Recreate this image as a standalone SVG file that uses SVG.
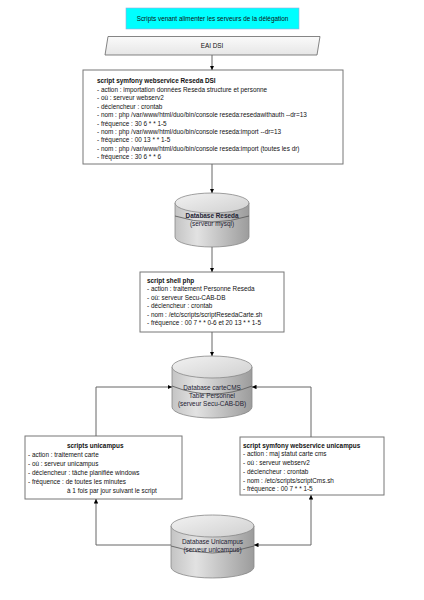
<svg xmlns="http://www.w3.org/2000/svg" width="424" height="600" viewBox="0 0 424 600">
<defs>
<style>
text{font-family:"Liberation Sans",Arial,sans-serif;font-size:6.4px;fill:#111}
.b{font-weight:bold}
.c{text-anchor:middle}
.box{fill:#fff;stroke:#777;stroke-width:1}
.conn{fill:none;stroke:#666;stroke-width:1}
.side{fill:url(#cylSide);stroke:#888;stroke-width:0.8}
.top{fill:url(#cylTop);stroke:#888;stroke-width:0.8}
.mid{fill:none;stroke:#555;stroke-width:0.8}
.db{fill:#223}
</style>
<linearGradient id="cylSide" x1="0" y1="0" x2="1" y2="0">
<stop offset="0" stop-color="#c4c4c4"/>
<stop offset="0.3" stop-color="#e2e2e2"/>
<stop offset="1" stop-color="#9c9c9c"/>
</linearGradient>
<linearGradient id="cylTop" x1="0" y1="0" x2="1" y2="1">
<stop offset="0" stop-color="#f2f2f2"/>
<stop offset="1" stop-color="#d0d0d0"/>
</linearGradient>
<linearGradient id="eai" x1="0" y1="0" x2="0" y2="1">
<stop offset="0" stop-color="#fafafa"/>
<stop offset="1" stop-color="#e6e6e6"/>
</linearGradient>
<marker id="arr" viewBox="0 0 10 10" refX="10" refY="5" markerWidth="4.5" markerHeight="4.5" orient="auto-start-reverse" markerUnits="userSpaceOnUse">
<path d="M0,0 L10,5 L0,10 Z" fill="#000"/>
</marker>
</defs>
<rect width="424" height="600" fill="#fff"/>

<g id="title">
<rect x="126" y="8" width="173" height="21" fill="#00ffff" stroke="#9ad" stroke-width="0.6"/>
<text class="c" x="212.5" y="21">Scripts venant alimenter les serveurs de la délégation</text>
</g>

<g id="eai-dsi">
<path d="M108,36.5 L320,36.5 L317,55 L105,55 Z" fill="url(#eai)" stroke="#666" stroke-width="0.8"/>
<text class="c" x="212" y="48">EAI DSI</text>
</g>

<g id="script-reseda-dsi">
<rect class="box" x="83" y="70" width="260" height="94"/>
<text class="b" x="97" y="83">script symfony webservice Reseda DSI</text>
<text x="97" y="91.5">- action : importation données Reseda structure et personne</text>
<text x="97" y="100">- où : serveur webserv2</text>
<text x="97" y="108.5">- déclencheur : crontab</text>
<text x="97" y="117">- nom : php /var/www/html/duo/bin/console reseda:resedawithauth --dr=13</text>
<text x="97" y="125.5">- fréquence : 30 6 * * 1-5</text>
<text x="97" y="134">- nom : php /var/www/html/duo/bin/console reseda:import --dr=13</text>
<text x="97" y="142.3">- fréquence : 00 13 * * 1-5</text>
<text x="97" y="150.7">- nom :  php /var/www/html/duo/bin/console reseda:import (toutes les dr)</text>
<text x="97" y="158.5">- fréquence : 30 6 * * 6</text>
</g>

<g id="db-reseda">
<path class="side" d="M175,203 L175,237 A37,10 0 0 0 249,237 L249,203 Z"/>
<ellipse class="top" cx="212" cy="203" rx="37" ry="10"/>
<path class="mid" d="M175,216 Q212,228 249,216"/>
<text class="c b db" x="212" y="217.5">Database Reseda</text>
<text class="c db" x="212" y="226">(serveur mysql)</text>
</g>

<g id="script-shell-php">
<rect class="box" x="140" y="272" width="144" height="60"/>
<text class="b" x="147" y="282.5">script shell php</text>
<text x="147" y="291">- action : traitement Personne Reseda</text>
<text x="147" y="299.5">- où: serveur Secu-CAB-DB</text>
<text x="147" y="308">- déclencheur : crontab</text>
<text x="147" y="316.5">- nom : /etc/scripts/scriptResedaCarte.sh</text>
<text x="147" y="325">- fréquence : 00 7 * * 0-6  et 20 13 * * 1-5</text>
</g>

<g id="db-cartecms">
<path class="side" d="M172,367 L172,407 A40,11 0 0 0 252,407 L252,367 Z"/>
<ellipse class="top" cx="212" cy="367" rx="40" ry="11"/>
<path class="mid" d="M172,386 Q212,402 252,386"/>
<text class="c db" x="212" y="390">Database carteCMS</text>
<text class="c db" x="212" y="397.5">Table Personnel</text>
<text class="c db" x="212" y="405.5">(serveur Secu-CAB-DB)</text>
</g>

<g id="scripts-unicampus">
<rect class="box" x="25" y="436" width="157" height="63"/>
<text class="b" x="67" y="447.5">scripts unicampus</text>
<text x="28" y="456.5">- action : traitement carte</text>
<text x="28" y="465.5">- où : serveur unicampus</text>
<text x="28" y="474.5">- déclencheur : tâche planifiée windows</text>
<text x="28" y="483.5">- fréquence : de toutes les minutes</text>
<text x="67" y="493">à 1 fois par jour suivant le script</text>
</g>

<g id="script-webservice-unicampus">
<rect class="box" x="240" y="437" width="144" height="58"/>
<text class="b" x="243" y="447.5">script symfony webservice unicampus</text>
<text x="243" y="455.5">- action : maj statut carte cms</text>
<text x="243" y="464.5">- où : serveur webserv2</text>
<text x="243" y="473.5">- déclencheur : crontab</text>
<text x="243" y="482.5">- nom : /etc/scripts/scriptCms.sh</text>
<text x="243" y="490.5">- fréquence : 00 7 * * 1-5</text>
</g>

<g id="db-unicampus">
<path class="side" d="M171,526 L171,567 A41.5,11 0 0 0 254,567 L254,526 Z"/>
<ellipse class="top" cx="212.5" cy="526" rx="41.5" ry="11"/>
<path class="mid" d="M171,546 Q212.5,560 254,546"/>
<text class="c db" x="212.5" y="543.5">Database Unicampus</text>
<text class="c db" x="212.5" y="551.5">(serveur unicampus)</text>
</g>

<g id="connectors">
<path class="conn" d="M212,55 L212,70" marker-end="url(#arr)"/>
<path class="conn" d="M212,164 L212,193" marker-end="url(#arr)"/>
<path class="conn" d="M212,247 L212,272" marker-end="url(#arr)"/>
<path class="conn" d="M212,332 L212,356" marker-end="url(#arr)"/>
<path class="conn" d="M96,436 L96,387 L172,387" marker-end="url(#arr)"/>
<path class="conn" d="M311,437 L311,387 L252,387" marker-end="url(#arr)"/>
<path class="conn" d="M171,545 L96,545 L96,499" marker-end="url(#arr)"/>
<path class="conn" d="M311,495 L311,545 L254,545" marker-start="url(#arr)" marker-end="url(#arr)"/>
</g>
</svg>
